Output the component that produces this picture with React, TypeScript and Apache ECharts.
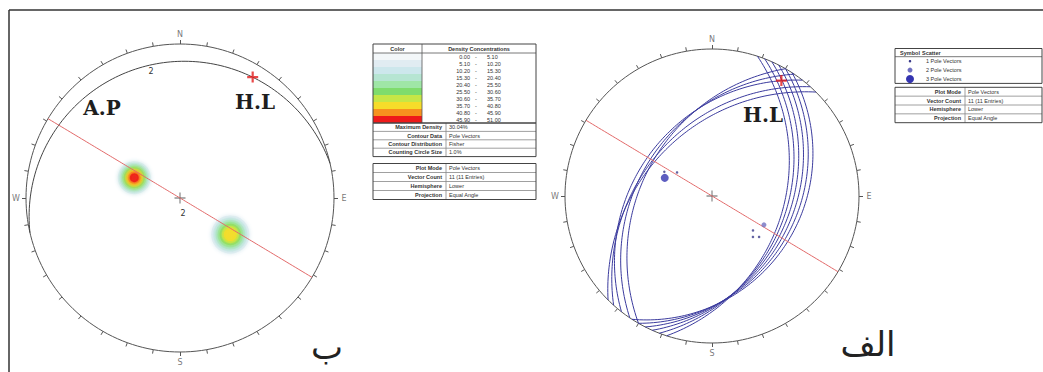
import React, { useEffect, useRef } from "react";
import * as echarts from "echarts";

// ---------- DATA ----------
// Right stereonet: 11 measured planes (dip direction, dip) in degrees
const planeDipDir = [108, 111, 114, 117, 120, 123, 300, 304, 308, 312, 315];
const planeDip = [38, 36, 34, 32, 30, 28, 40, 38, 36, 40, 42];
// Pole vectors (trend, plunge, count) shown as scatter
const poleTrend = [291, 304, 297, 119, 130, 135, 131];
const polePlunge = [52, 58, 50, 46, 50, 47, 44];
const poleCount = [3, 1, 1, 2, 1, 1, 1];
// Profile plane (vertical) and hinge line (H.L)
const profileDipDir = 31;
const profileDip = 90;
const hingeTrend = 31;
const hingePlunge = 5;
// Left stereonet: 2% contour arc (as a great circle) and density peaks
const contourDipDir = 347;
const contourDip = 7;
const peakTrend = [294, 126];
const peakPlunge = [54, 46];
const peakLevel = [10, 8]; // highest density band reached
// Legend tables
const densityFrom = ["0.00", "5.10", "10.20", "15.30", "20.40", "25.50", "30.60", "35.70", "40.80", "45.90"];
const densityTo = ["5.10", "10.20", "15.30", "20.40", "25.50", "30.60", "35.70", "40.80", "45.90", "51.00"];
const statLabels = ["Maximum Density", "Contour Data", "Contour Distribution", "Counting Circle Size"];
const statValues = ["30.04%", "Pole Vectors", "Fisher", "1.0%"];
const plotLabels = ["Plot Mode", "Vector Count", "Hemisphere", "Projection"];
const plotValues = ["Pole Vectors", "11 (11 Entries)", "Lower", "Equal Angle"];
const scatterLegend = ["1 Pole Vectors", "2 Pole Vectors", "3 Pole Vectors"];
const cardinals = ["N", "E", "S", "W"];

// ---------- STYLE ----------
const bandColors = ["#f3f7f9", "#e1ecf2", "#cde7ec", "#b6e5d2", "#9fe6a6", "#7fdc6c", "#c6e646", "#f6dc2a", "#f7921e", "#ee1a1a"];
const poleColors = ["#3a3a8a", "#7070c0", "#3434b0"];
const poleSizes = [2.5, 5, 8];
const LC = [180, 198], LR = 154;
const RC = [712, 196], RR = 147;
const SPAN = 1.1;

const d2r = Math.PI / 180;
function project(trend: number, plunge: number) {
  const r = Math.tan((Math.PI / 2 - plunge * d2r) / 2);
  return [r * Math.sin(trend * d2r), r * Math.cos(trend * d2r)];
}
function greatCircle(dd: number, dip: number) {
  const pts: number[][] = [];
  const s = (dd - 90) * d2r, a = dd * d2r, dp = dip * d2r;
  for (let t = 0; t <= 180; t += 1.5) {
    const ct = Math.cos(t * d2r), st = Math.sin(t * d2r);
    const n = ct * Math.cos(s) + st * Math.cos(dp) * Math.cos(a);
    const e = ct * Math.sin(s) + st * Math.cos(dp) * Math.sin(a);
    const d = Math.min(1, Math.max(0, st * Math.sin(dp)));
    const pl = Math.asin(d) / d2r;
    const tr = Math.atan2(e, n) / d2r;
    pts.push(project(tr, pl));
  }
  return pts;
}
function circlePts() {
  const p: number[][] = [];
  for (let a = 0; a <= 360; a += 2) p.push([Math.sin(a * d2r), Math.cos(a * d2r)]);
  return p;
}
function ticks(R: number) {
  const out: any[] = [];
  for (let a = 0; a < 360; a += 10) {
    const s = Math.sin(a * d2r), c = Math.cos(a * d2r), k = 1 + 4 / R;
    out.push({ coords: [[s, c], [s * k, c * k]] });
  }
  return out;
}

function netBase(idx: number, R: number) {
  return [
    { type: "line", xAxisIndex: idx, yAxisIndex: idx, data: circlePts(), showSymbol: false, clip: false, silent: true,
      lineStyle: { color: "#555", width: 1 }, z: 3 },
    { type: "lines", coordinateSystem: "cartesian2d", xAxisIndex: idx, yAxisIndex: idx, data: ticks(R), silent: true,
      lineStyle: { color: "#555", width: 1, opacity: 1 }, z: 3 },
    { type: "scatter", xAxisIndex: idx, yAxisIndex: idx, clip: false, silent: true, symbolSize: 1,
      itemStyle: { color: "rgba(0,0,0,0)" },
      label: { show: true, position: "inside", formatter: "{b}", color: "#555", fontSize: 8, fontFamily: "DejaVu Sans" },
      data: cardinals.map((c, i) => {
        const k = 1 + 10 / R;
        return { name: c, value: [Math.sin(i * 90 * d2r) * k, Math.cos(i * 90 * d2r) * k] };
      }), z: 4 },
    { type: "scatter", xAxisIndex: idx, yAxisIndex: idx, silent: true, symbol: "path://M4.6,0H5.4V4.6H10V5.4H5.4V10H4.6V5.4H0V4.6H4.6Z",
      symbolSize: 11, itemStyle: { color: "#333" }, data: [[0, 0]], z: 6 },
    { type: "line", xAxisIndex: idx, yAxisIndex: idx, data: greatCircle(profileDipDir, profileDip), showSymbol: false, clip: false,
      silent: true, lineStyle: { color: "#e36a6a", width: 1 }, z: 8 },
    { type: "scatter", xAxisIndex: idx, yAxisIndex: idx, silent: true, symbol: "path://M4,0H6V4H10V6H6V10H4V6H0V4H4Z",
      symbolSize: 11, itemStyle: { color: "#e21b1b" }, data: [project(hingeTrend, hingePlunge)], z: 10 },
  ];
}

function peakSeries() {
  const data: any[] = [];
  peakTrend.forEach((tr, i) => {
    const pos = project(tr, peakPlunge[i]);
    const lvl = peakLevel[i];
    const spread = i === 0 ? 3.0 : 4.2;
    for (let b = 1; b < lvl; b++) {
      const size = 9 + spread * (lvl - 1 - b) + (i === 1 ? 4 : 0);
      data.push({ value: pos, symbolSize: size,
        itemStyle: { color: bandColors[b], shadowBlur: 5, shadowColor: bandColors[b] } });
    }
  });
  return { type: "scatter", xAxisIndex: 0, yAxisIndex: 0, silent: true, data, z: 5 };
}

function tableGraphics() {
  const g: any[] = [];
  const line = (x1: number, y1: number, x2: number, y2: number, c = "#555", w = 0.8) =>
    g.push({ type: "line", shape: { x1, y1, x2, y2 }, style: { stroke: c, lineWidth: w }, z: 50 });
  const rect = (x: number, y: number, w: number, h: number) =>
    g.push({ type: "rect", shape: { x, y, width: w, height: h }, style: { fill: "none", stroke: "#444", lineWidth: 1 }, z: 51 });
  const txt = (x: number, y: number, t: string, align = "left", bold = false) =>
    g.push({ type: "text", x, y, style: { text: t, align, verticalAlign: "middle", fill: "#333", fontSize: 5.5,
      fontFamily: "Liberation Sans", fontWeight: bold ? "bold" : "normal" }, z: 52 });

  // frame
  line(9, 10, 1043, 10, "#333", 1.5);
  line(9, 10, 9, 372, "#333", 1.5);

  // left table: density
  const x0 = 373, x1 = 536, xc = 422, top = 44, hdr = 53, bh = 7;
  bandColors.forEach((c, i) => {
    g.push({ type: "rect", shape: { x: x0, y: hdr + i * bh, width: xc - x0, height: bh }, style: { fill: c }, z: 49 });
    txt(470, hdr + i * bh + 3.5, densityFrom[i], "right");
    txt(476, hdr + i * bh + 3.5, "-", "center");
    txt(487, hdr + i * bh + 3.5, densityTo[i], "left");
  });
  const bandEnd = hdr + 10 * bh;
  rect(x0, top, x1 - x0, bandEnd - top);
  line(x0, hdr, x1, hdr);
  line(xc, top, xc, bandEnd);
  txt((x0 + xc) / 2, (top + hdr) / 2, "Color", "center", true);
  txt((xc + x1) / 2, (top + hdr) / 2, "Density Concentrations", "center", true);
  const rh = 8.4;
  rect(x0, bandEnd, x1 - x0, rh * 4);
  statLabels.forEach((l, i) => {
    const y = bandEnd + i * rh;
    if (i > 0) line(x0, y, x1, y, "#888");
    txt(442, y + rh / 2, l, "right", true);
    txt(449, y + rh / 2, statValues[i], "left");
  });
  line(446, bandEnd, 446, bandEnd + 4 * rh, "#888");
  const t2 = 163.5, rh2 = 9;
  rect(x0, t2, x1 - x0, rh2 * 4);
  plotLabels.forEach((l, i) => {
    const y = t2 + i * rh2;
    if (i > 0) line(x0, y, x1, y, "#888");
    txt(442, y + rh2 / 2, l, "right", true);
    txt(449, y + rh2 / 2, plotValues[i], "left");
  });
  line(446, t2, 446, t2 + 4 * rh2, "#888");

  // right table: scatter legend
  const rx0 = 895, rx1 = 1042, rtop = 48.5, rhdr = 56.7, rrh = 8.9;
  rect(rx0, rtop, rx1 - rx0, rhdr - rtop + 3 * rrh);
  line(rx0, rhdr, rx1, rhdr);
  txt(910, (rtop + rhdr) / 2, "Symbol", "center", true);
  txt(922, (rtop + rhdr) / 2, "Scatter", "left", true);
  scatterLegend.forEach((l, i) => {
    const y = rhdr + i * rrh + rrh / 2;
    g.push({ type: "circle", shape: { cx: 910, cy: y, r: poleSizes[i] / 2 }, style: { fill: poleColors[i] }, z: 52 });
    txt(926, y, l, "left");
  });
  const rt2 = 87.3, rrh2 = 8.85;
  rect(rx0, rt2, rx1 - rx0, rrh2 * 4);
  plotLabels.forEach((l, i) => {
    const y = rt2 + i * rrh2;
    if (i > 0) line(rx0, y, rx1, y, "#888");
    txt(961, y + rrh2 / 2, l, "right", true);
    txt(968, y + rrh2 / 2, plotValues[i], "left");
  });
  line(965, rt2, 965, rt2 + 4 * rrh2, "#888");

  // annotations
  const big = (x: number, y: number, t: string) =>
    g.push({ type: "text", x, y, style: { text: t, align: "center", verticalAlign: "middle", fill: "#1e1e1e", fontSize: 20,
      fontWeight: "bold", fontFamily: "DejaVu Serif" }, z: 60 });
  big(102, 108, "A.P");
  big(255, 102, "H.L");
  big(763, 115, "H.L");
  const small = (x: number, y: number, t: string) =>
    g.push({ type: "text", x, y, style: { text: t, align: "center", verticalAlign: "middle", fill: "#333", fontSize: 8,
      fontFamily: "DejaVu Sans" }, z: 60 });
  small(151, 71, "2");
  small(183, 213, "2");
  const ar = (x: number, y: number, t: string) =>
    g.push({ type: "text", x, y, style: { text: t, align: "center", verticalAlign: "middle", fill: "#222", fontSize: 34,
      fontFamily: "DejaVu Sans" }, z: 60 });
  ar(327, 347, "ب");
  ar(868, 344, "الف");
  return g;
}

export default function App() {
  const ref = useRef<HTMLDivElement>(null);
  useEffect(() => {
    if (!ref.current) return;
    const chart = echarts.init(ref.current, undefined, { renderer: "svg" });
    const grids = [
      { left: LC[0] - SPAN * LR, top: LC[1] - SPAN * LR, width: 2 * SPAN * LR, height: 2 * SPAN * LR },
      { left: RC[0] - SPAN * RR, top: RC[1] - SPAN * RR, width: 2 * SPAN * RR, height: 2 * SPAN * RR },
    ];
    const ax = (i: number) => ({ type: "value", gridIndex: i, min: -SPAN, max: SPAN, show: false });
    const series: any[] = [];
    series.push(...netBase(0, LR));
    series.push({ type: "line", xAxisIndex: 0, yAxisIndex: 0, data: greatCircle(contourDipDir, contourDip), showSymbol: false,
      clip: false, silent: true, lineStyle: { color: "#444", width: 1 }, z: 4 });
    series.push(peakSeries());
    series.push(...netBase(1, RR));
    planeDipDir.forEach((dd, i) => {
      series.push({ type: "line", xAxisIndex: 1, yAxisIndex: 1, data: greatCircle(dd, planeDip[i]), showSymbol: false,
        clip: false, silent: true, lineStyle: { color: "#3b3b9e", width: 1 }, z: 7 });
    });
    series.push({ type: "scatter", xAxisIndex: 1, yAxisIndex: 1, silent: true, z: 9,
      data: poleTrend.map((t, i) => ({ value: project(t, polePlunge[i]), symbolSize: poleSizes[poleCount[i] - 1],
        itemStyle: { color: poleColors[poleCount[i] - 1] } })) });
    chart.setOption({
      animation: false,
      backgroundColor: "#ffffff",
      grid: grids,
      xAxis: [ax(0), ax(1)],
      yAxis: [ax(0), ax(1)],
      series,
      graphic: tableGraphics(),
    });
    return () => chart.dispose();
  }, []);
  return <div ref={ref} style={{ position: "fixed", left: 0, top: 0, width: 1043, height: 372 }} />;
}
